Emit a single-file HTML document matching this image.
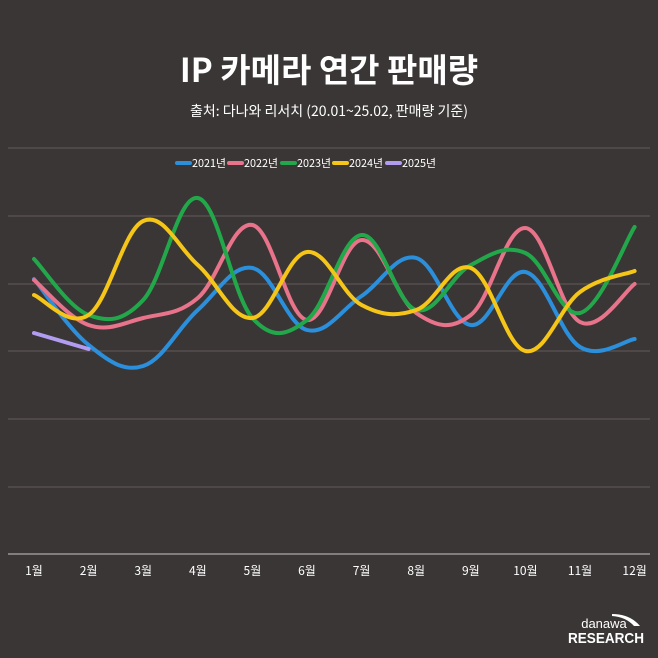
<!DOCTYPE html>
<html><head><meta charset="utf-8"><style>
html,body{margin:0;padding:0;background:#3a3635;}
body{width:658px;height:658px;overflow:hidden;font-family:"Liberation Sans","Noto Sans CJK KR",sans-serif;}
</style></head><body>
<svg id="s" width="658" height="658" xmlns="http://www.w3.org/2000/svg" style="display:block">
<rect width="658" height="658" fill="#3a3635"/>
<text x="329" y="82" text-anchor="middle" fill="#fff" font-size="33" font-weight="bold" font-family="Noto Sans CJK KR, sans-serif">IP 카메라 연간 판매량</text>
<text x="329" y="116" text-anchor="middle" fill="#fff" font-size="14" font-family="Noto Sans CJK KR, sans-serif">출처: 다나와 리서치 (20.01~25.02, 판매량 기준)</text>
<g stroke="#5a5553" stroke-width="1.2">
<line x1="8" x2="650" y1="148" y2="148"/><line x1="8" x2="650" y1="216" y2="216"/><line x1="8" x2="650" y1="284" y2="284"/><line x1="8" x2="650" y1="351" y2="351"/><line x1="8" x2="650" y1="419" y2="419"/><line x1="8" x2="650" y1="487" y2="487"/>
</g>
<line x1="8" x2="650" y1="554" y2="554" stroke="#9a9694" stroke-width="1.5"/>
<g font-size="11" fill="#fff" font-family="Noto Sans CJK KR, sans-serif" id="leg"></g>
<g id="lines" fill="none" stroke-width="4" stroke-linecap="round"></g>
<g id="xl" font-size="12" fill="#fff" text-anchor="middle" font-family="Noto Sans CJK KR, sans-serif"></g>
<text x="604" y="628" text-anchor="middle" fill="#fff" font-size="13" font-family="Liberation Sans, sans-serif">danawa</text>
<path d="M612 614 Q630 614 640 626 L634 626 Q626 617 612 616Z" fill="#fff"/>
<text x="606" y="643" text-anchor="middle" fill="#fff" font-size="15" font-weight="bold" font-family="Liberation Sans, sans-serif" textLength="76" lengthAdjust="spacingAndGlyphs">RESEARCH</text>
</svg>
<script>
var NS="http://www.w3.org/2000/svg";
var xs=[];for(var i=0;i<12;i++)xs.push(34+i*54.6);
var data=[
["#2b8fdc",[279,345,366,310,268,330,296,258,325,272,347,339]],
["#e8738a",[280,325,318,298,225,320,240,313,315,228,322,284]],
["#22a84a",[259,315,300,198,318,320,235,310,265,253,313,227]],
["#f5c518",[295,315,221,265,318,252,305,310,268,351,292,271]],
["#b19cf0",[333,349]]];
function path(ys){var p=xs.slice(0,ys.length).map(function(x,i){return[x,ys[i]]});
var d="M"+p[0][0]+" "+p[0][1];
if(p.length==2)return d+" L"+p[1][0]+" "+p[1][1];
for(var i=0;i<p.length-1;i++){var p0=p[i-1]||p[i],p1=p[i],p2=p[i+1],p3=p[i+2]||p2;var t=0.5/3*1.1;
d+=" C"+(p1[0]+(p2[0]-p0[0])*t)+" "+(p1[1]+(p2[1]-p0[1])*t)+" "+(p2[0]-(p3[0]-p1[0])*t)+" "+(p2[1]-(p3[1]-p1[1])*t)+" "+p2[0]+" "+p2[1];}
return d;}
var g=document.getElementById("lines"),leg=document.getElementById("leg");
var names=["2021년","2022년","2023년","2024년","2025년"],lx=[176,228,281,333,386];
data.forEach(function(s,k){var e=document.createElementNS(NS,"path");e.setAttribute("d",path(s[1]));e.setAttribute("stroke",s[0]);g.appendChild(e);
var l=document.createElementNS(NS,"line");l.setAttribute("x1",lx[k]+1);l.setAttribute("x2",lx[k]+14);l.setAttribute("y1",163);l.setAttribute("y2",163);l.setAttribute("stroke",s[0]);l.setAttribute("stroke-width",4);l.setAttribute("stroke-linecap","round");leg.appendChild(l);
var t=document.createElementNS(NS,"text");t.setAttribute("x",lx[k]+16);t.setAttribute("y",167);t.setAttribute("textLength","34");t.setAttribute("lengthAdjust","spacingAndGlyphs");t.textContent=names[k];leg.appendChild(t);});
var xl=document.getElementById("xl");
for(var i=0;i<12;i++){var t=document.createElementNS(NS,"text");t.setAttribute("x",xs[i]);t.setAttribute("y",575);t.textContent=(i+1)+"월";xl.appendChild(t);}
</script>
</body></html>
